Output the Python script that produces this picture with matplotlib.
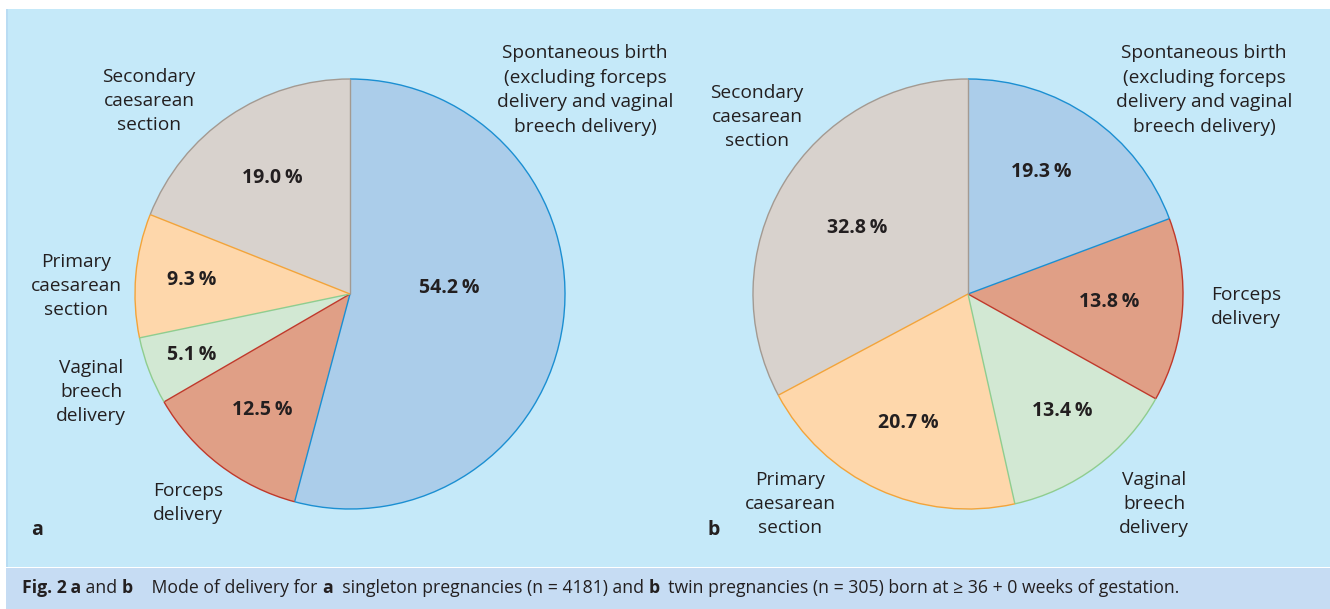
import matplotlib
matplotlib.use("Agg")
import matplotlib.pyplot as plt
from matplotlib.patches import Rectangle, Arc
import numpy as np

# --------------------------------------------------------------------------------------------------
# data
# --------------------------------------------------------------------------------------------------
categories = ['Spontaneous birth\n(excluding forceps\ndelivery and vaginal\nbreech delivery)',
              'Forceps\ndelivery',
              'Vaginal\nbreech\ndelivery',
              'Primary\ncaesarean\nsection',
              'Secondary\ncaesarean\nsection']
singleton_pct = [54.2, 12.5, 5.1, 9.3, 19.0]
twin_pct = [19.3, 13.8, 13.4, 20.7, 32.8]
caption_parts = [('Fig. 2', 'bold'), ('\u2009a', 'bold'), (' and ', 'normal'), ('b', 'bold'),
                 ('    Mode of delivery for ', 'normal'), ('a', 'bold'),
                 ('  singleton pregnancies (n = 4181) and ', 'normal'), ('b', 'bold'),
                 ('  twin pregnancies (n = 305) born at \u2265 36 + 0 weeks of gestation.', 'normal')]

face_colors = ['#abcdea', '#e09f86', '#d2e8d3', '#fed7ab', '#d8d2cd']
edge_colors = ['#1b8fd2', '#c0392b', '#8fcd8f', '#f3a43a', '#a39a92']

W, H = 1330, 609
plt.rcParams['font.family'] = ['Open Sans', 'DejaVu Sans']
TXT = '#231f20'

fig = plt.figure(figsize=(W / 100, H / 100), dpi=100, facecolor='white')
ax = fig.add_axes([0, 0, 1, 1])
ax.set_xlim(0, W)
ax.set_ylim(0, H)
ax.set_aspect('equal')
ax.axis('off')

def py(y):
    # pixel row (from top) -> axes y
    return H - y

# background panels
ax.add_patch(Rectangle((6, py(567)), W - 6, 567 - 9, facecolor='#c5e9f9', edgecolor='none', zorder=0))
ax.add_patch(Rectangle((6, 0), W - 6, H - 567 - 1, facecolor='#c6dcf3', edgecolor='none', zorder=0))
ax.add_patch(Rectangle((6, py(567)), 2, 567 - 9, facecolor='#b9dcf3', edgecolor='none', zorder=0))


def draw_pie(values, center, radius, label_pos, pct_pos):
    wedges, _ = ax.pie(values, colors=face_colors, startangle=90, counterclock=False,
                       center=center, radius=radius, wedgeprops=dict(linewidth=0), frame=True)
    # outline: arc plus trailing (clockwise) radial line in each slice's own colour
    for w, ec in zip(wedges, edge_colors):
        ax.add_patch(Arc(w.center, 2 * w.r, 2 * w.r, theta1=w.theta1, theta2=w.theta2,
                         color=ec, lw=1.0, zorder=3))
        t = np.deg2rad(w.theta1)
        ax.plot([w.center[0], w.center[0] + w.r * np.cos(t)],
                [w.center[1], w.center[1] + w.r * np.sin(t)], color=ec, lw=1.0, zorder=3,
                solid_capstyle='butt')
    for lab, (x, y) in zip(categories, label_pos):
        ax.text(x, py(y), lab, ha='center', va='center', fontsize=13.8, color=TXT,
                linespacing=1.46)
    for v, (x, y) in zip(values, pct_pos):
        ax.text(x, py(y), f'{v:.1f}\u2009%', ha='center', va='center', fontsize=14,
                fontweight='bold', color=TXT)


draw_pie(singleton_pct, (350, py(294)), 215,
         [(585, 90), (188, 503), (91, 392), (76, 286), (149, 101)],
         [(449, 288), (262, 410), (192, 355), (192, 280), (272, 178)])
draw_pie(twin_pct, (968, py(294)), 215,
         [(1204, 90), (1246, 307), (1154, 504), (790, 504), (757, 117)],
         [(1041, 172), (1109, 302), (1062, 411), (908, 423), (857, 228)])

ax.set_xlim(0, W)
ax.set_ylim(0, H)
ax.axis('off')

ax.text(37, py(530), 'a', ha='center', va='center', fontsize=14, fontweight='bold', color=TXT)
ax.text(714, py(530), 'b', ha='center', va='center', fontsize=14, fontweight='bold', color=TXT)

# caption, pieces placed one after another
fig.canvas.draw()
renderer = fig.canvas.get_renderer()
x = 22
for s, wt in caption_parts:
    t = ax.text(x, py(588), s, ha='left', va='center', fontsize=12.7, fontweight=wt,
                color=TXT, family=['Open Sans', 'DejaVu Sans'])
    bb = t.get_window_extent(renderer=renderer)
    x += bb.width

fig.savefig('out.png', dpi=100, facecolor='white')
